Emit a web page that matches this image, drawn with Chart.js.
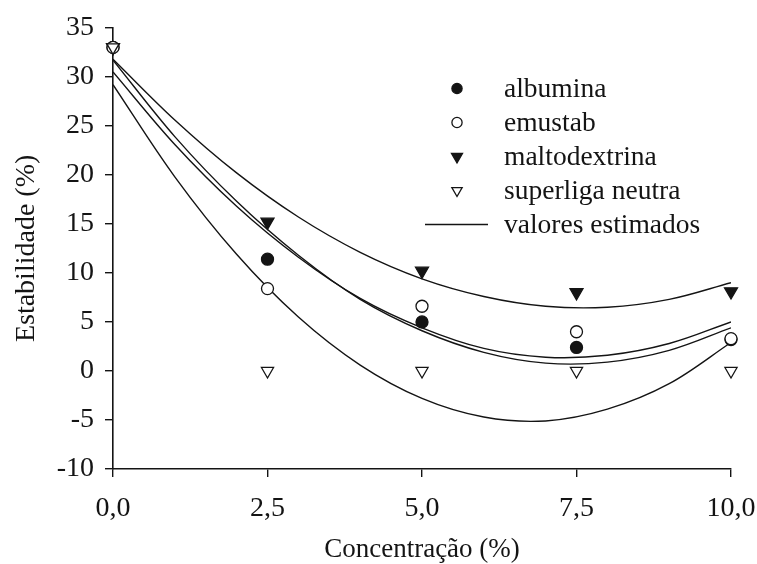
<!DOCTYPE html>
<html>
<head>
<meta charset="utf-8">
<script src="https://cdn.jsdelivr.net/npm/chart.js@4"></script>
<style>
    html, body { margin: 0; padding: 0; background: #fff; }
</style>
</head>
<body>
<canvas id="grafico" width="757" height="564"></canvas>
<script>
// concentração (%) e estabilidade (%) medidas
const concentracao = [0, 2.5, 5, 7.5, 10];
const albumina = [33, 11.4, 5.0, 2.4, 3.2];
const emustab = [33, 8.4, 6.6, 4.0, 3.3];
const maltodextrina = [33, 15.2, 10.2, 8.0, 8.1];
const superliga = [33, 0, 0, 0, 0];

// valores estimados (curvas ajustadas) lidos de 0 a 10
const xEstimado = [0, 1, 2, 3, 4, 5, 6, 7, 8, 9, 10];
const estAlbumina = [31.7, 23.9, 17.3, 11.8, 7.3, 4.1, 1.9, 0.8, 0.9, 2.1, 4.4];
const estEmustab = [30.5, 23.1, 16.8, 11.6, 7.4, 4.4, 2.3, 1.4, 1.6, 2.8, 5.0];
const estMaltodextrina = [31.8, 25.6, 20.2, 15.7, 12.1, 9.4, 7.6, 6.6, 6.5, 7.3, 9.0];
const estSuperliga = [29.2, 19.8, 11.9, 5.5, 0.6, -2.8, -4.7, -5.1, -3.9, -1.3, 2.9];

const legendaTextos = ['albumina', 'emustab', 'maltodextrina', 'superliga neutra', 'valores estimados'];

const FONTE = "'Liberation Serif', 'Times New Roman', serif";
const PRETO = '#141414';

function pontos(xs, ys) {
    let out = [];
    for (let i = 0; i < xs.length; i++) {
        out.push({x: xs[i], y: ys[i]});
    }
    return out;
}

function serieMedida(label, ys, estilo, cheio, raio, ordem) {
    return {
        label: label,
        data: pontos(concentracao, ys),
        pointStyle: estilo,
        rotation: estilo === 'triangle' ? 180 : 0,
        pointRadius: raio,
        pointHoverRadius: raio,
        backgroundColor: cheio ? PRETO : '#ffffff',
        borderColor: PRETO,
        borderWidth: 1.3,
        showLine: false,
        clip: false,
        order: ordem
    };
}

function serieEstimada(label, ys) {
    return {
        label: label,
        data: pontos(xEstimado, ys),
        showLine: true,
        tension: 0.35,
        pointRadius: 0,
        borderColor: PRETO,
        borderWidth: 1.4,
        fill: false,
        order: 10
    };
}

function desenhaMarcador(ctx, ds, x, y, escala) {
    const r = ds.pointRadius * escala;
    ctx.fillStyle = ds.backgroundColor;
    ctx.strokeStyle = ds.borderColor;
    ctx.lineWidth = ds.borderWidth;
    ctx.beginPath();
    if (ds.pointStyle === 'circle') {
        ctx.arc(x, y, r, 0, Math.PI * 2);
    } else {
        // triângulo com a ponta para baixo
        ctx.moveTo(x, y + r);
        ctx.lineTo(x - r * 0.866, y - r * 0.5);
        ctx.lineTo(x + r * 0.866, y - r * 0.5);
        ctx.closePath();
    }
    ctx.fill();
    ctx.stroke();
}

const legenda = {
    id: 'legenda',
    afterDraw(chart) {
        const ctx = chart.ctx;
        const datasets = chart.data.datasets;
        ctx.save();
        for (let i = 0; i < legendaTextos.length; i++) {
            const y = 88.5 + i * 34;
            const ds = datasets[i];
            if (ds.showLine) {
                ctx.strokeStyle = ds.borderColor;
                ctx.lineWidth = ds.borderWidth;
                ctx.beginPath();
                ctx.moveTo(425, y);
                ctx.lineTo(488, y);
                ctx.stroke();
            } else {
                desenhaMarcador(ctx, ds, 457, y, 0.85);
            }
            ctx.font = '27.5px ' + FONTE;
            ctx.fillStyle = PRETO;
            ctx.textAlign = 'left';
            ctx.textBaseline = 'alphabetic';
            ctx.fillText(legendaTextos[i], 504, y + 8.5);
        }
        ctx.restore();
    }
};

const data = {
    datasets: [
        serieMedida('albumina', albumina, 'circle', true, 6, 4),
        serieMedida('emustab', emustab, 'circle', false, 6, 2),
        serieMedida('maltodextrina', maltodextrina, 'triangle', true, 7.5, 3),
        serieMedida('superliga neutra', superliga, 'triangle', false, 7, 1),
        serieEstimada('valores estimados', estAlbumina),
        serieEstimada('emustab estimado', estEmustab),
        serieEstimada('maltodextrina estimado', estMaltodextrina),
        serieEstimada('superliga estimado', estSuperliga)
    ]
};

const eixoGrid = {
    drawOnChartArea: false,
    drawTicks: true,
    tickLength: 8,
    color: PRETO,
    lineWidth: 1.4
};

const config = {
    type: 'scatter',
    data: data,
    options: {
        responsive: false,
        animation: false,
        events: [],
        layout: { padding: { top: 26, right: 26, bottom: 0, left: 0 } },
        plugins: {
            legend: { display: false },
            tooltip: { enabled: false }
        },
        scales: {
            x: {
                type: 'linear',
                min: 0,
                max: 10,
                afterFit: (s) => {
                    s.height = 95;
                    s.paddingLeft = 0;
                    s.paddingRight = 0;
                },
                grid: eixoGrid,
                border: { display: true, color: PRETO, width: 1.6 },
                ticks: {
                    stepSize: 2.5,
                    padding: 15,
                    color: PRETO,
                    font: { family: FONTE, size: 28 },
                    callback: (v) => v.toFixed(1).replace('.', ',')
                },
                title: {
                    display: true,
                    text: 'Concentração (%)',
                    color: PRETO,
                    font: { family: FONTE, size: 27, lineHeight: 1 },
                    padding: { top: 0, bottom: 0.5 }
                }
            },
            y: {
                min: -10,
                max: 35,
                afterFit: (s) => { s.width = 113; },
                grid: eixoGrid,
                border: { display: true, color: PRETO, width: 1.6 },
                ticks: {
                    stepSize: 5,
                    padding: 11,
                    color: PRETO,
                    font: { family: FONTE, size: 28 }
                },
                title: {
                    display: true,
                    text: 'Estabilidade (%)',
                    color: PRETO,
                    font: { family: FONTE, size: 28, lineHeight: 1 },
                    padding: { top: 12.5, bottom: 0 }
                }
            }
        }
    },
    plugins: [legenda]
};

window.grafico = new Chart(document.getElementById('grafico').getContext('2d'), config);
</script>
</body>
</html>
